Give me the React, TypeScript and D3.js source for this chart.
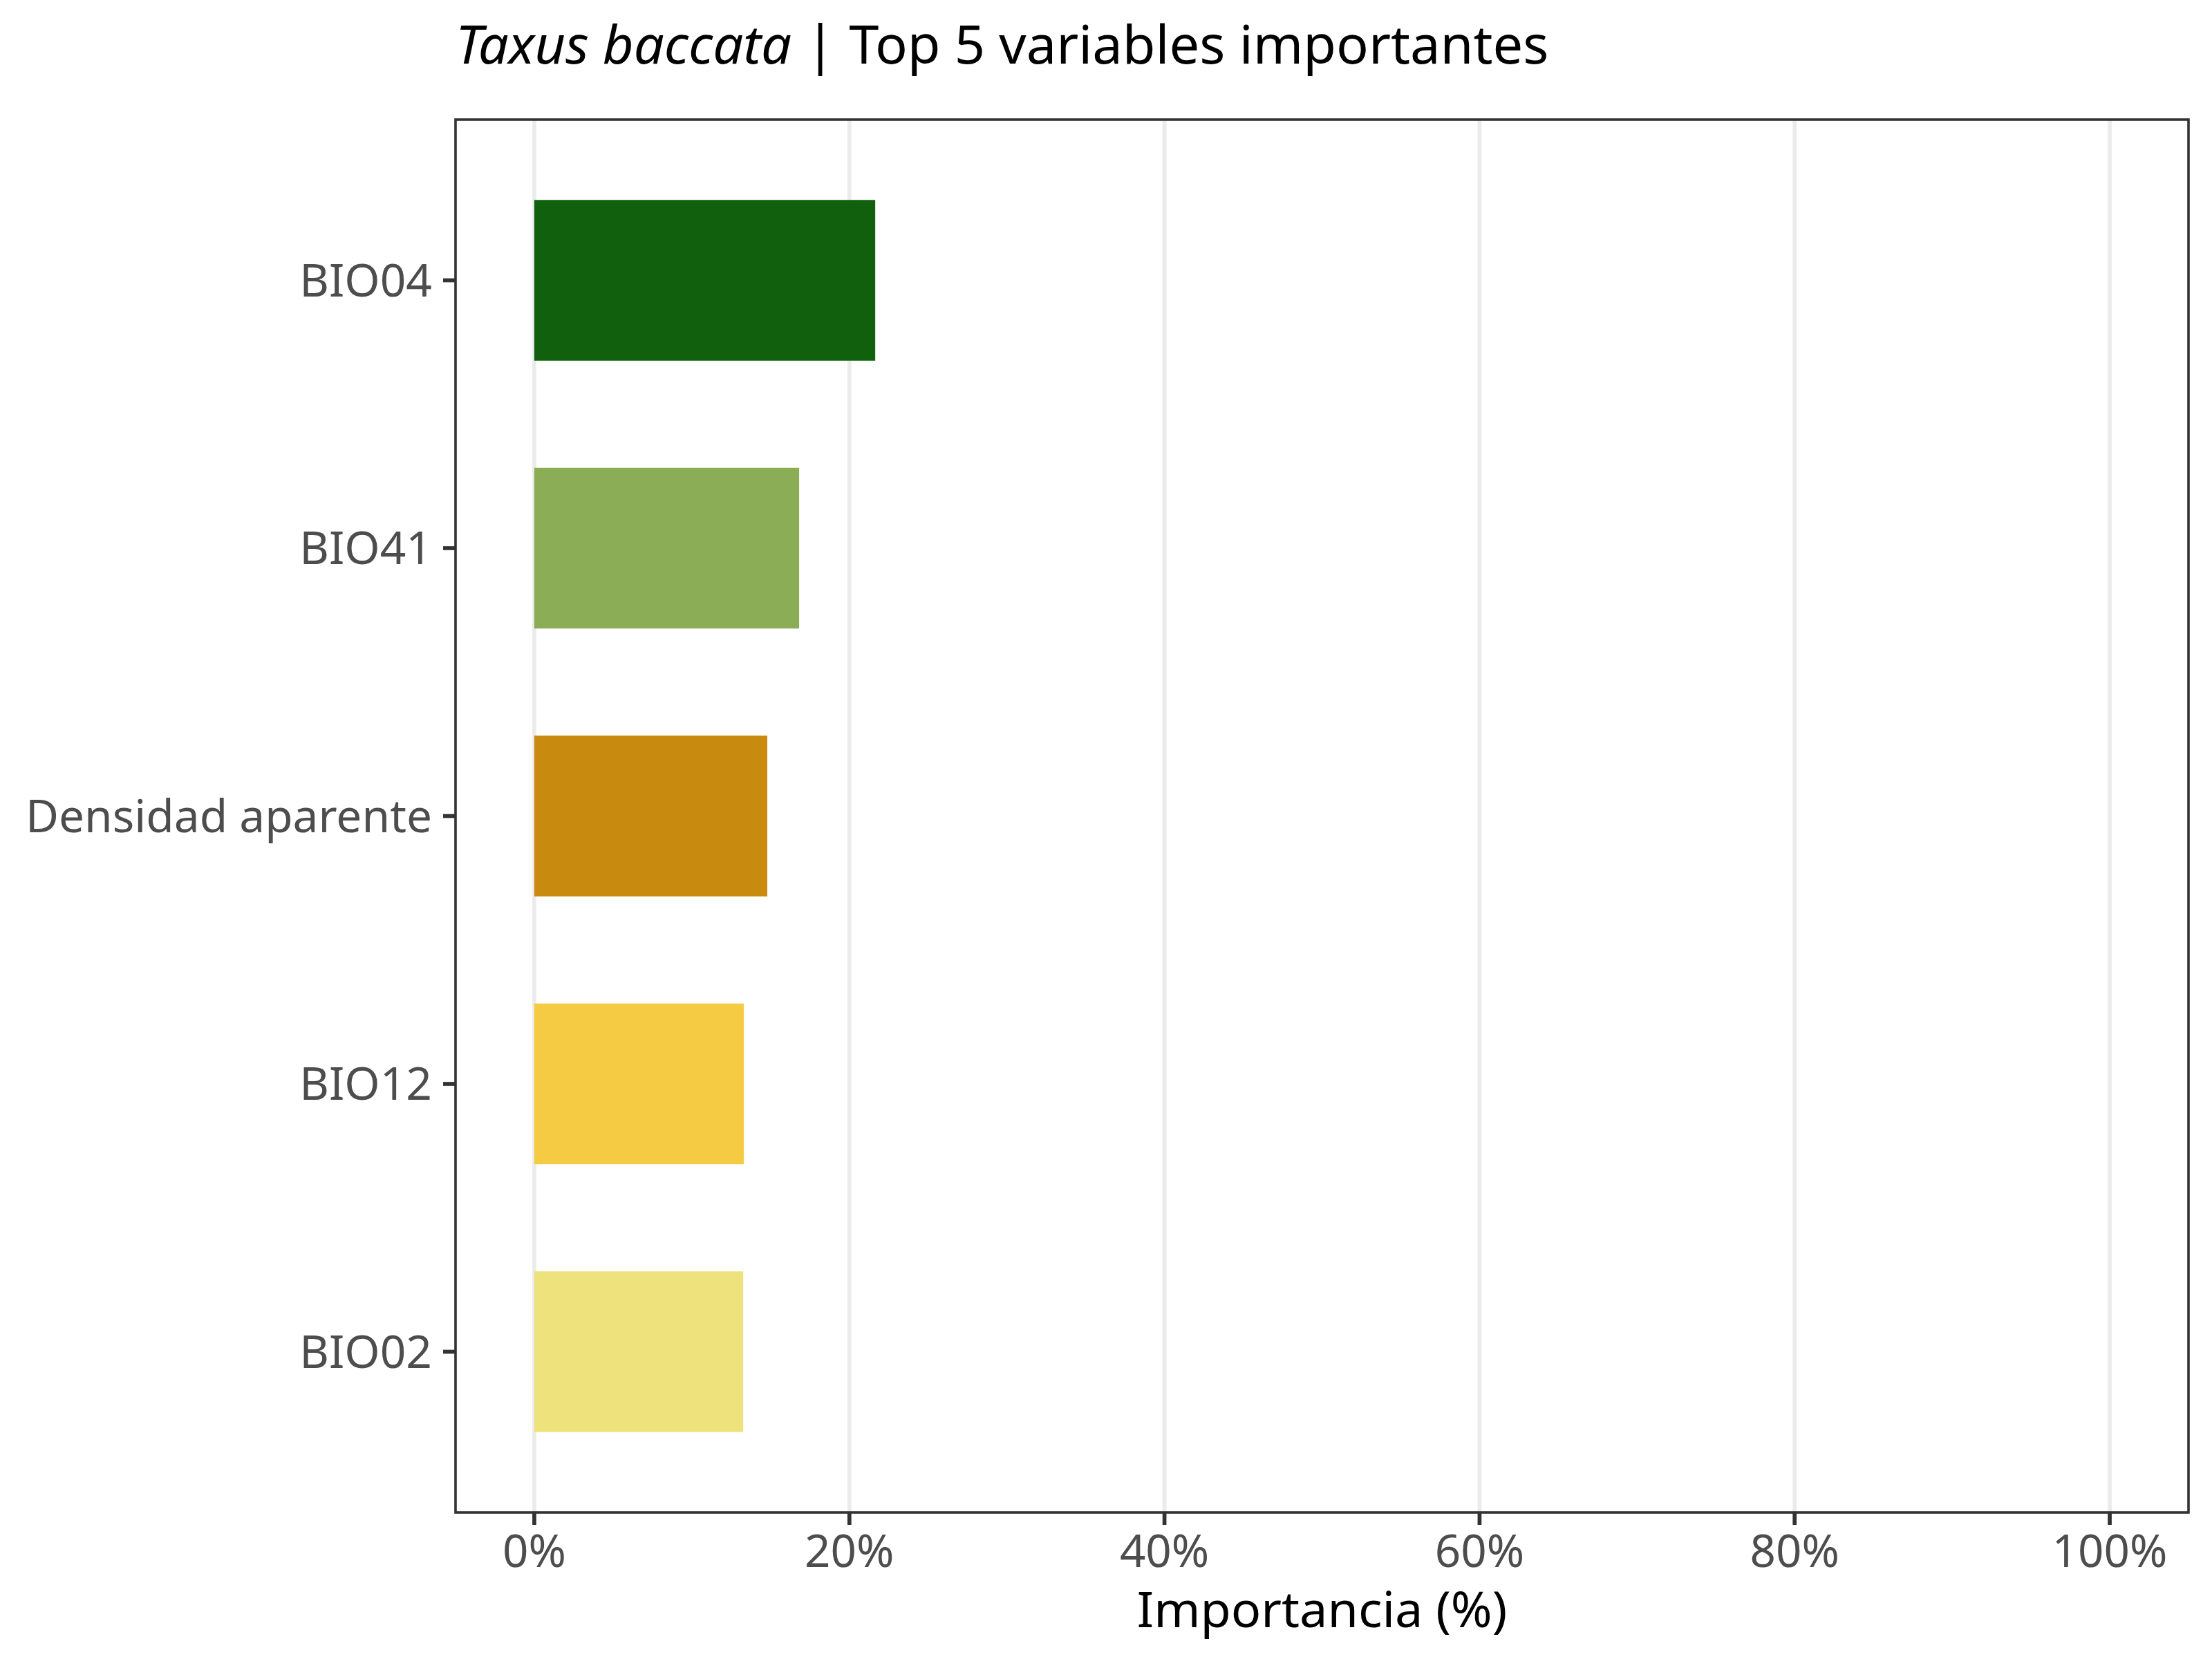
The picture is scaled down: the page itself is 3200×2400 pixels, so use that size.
import React from "react";
import * as d3 from "d3";

// ---- Data ----
const categories = ["BIO04", "BIO41", "Densidad aparente", "BIO12", "BIO02"];
const importance = [21.64, 16.81, 14.79, 13.3, 13.26];
const barColors = ["#10600e", "#8aad55", "#c88a0f", "#f6cb44", "#eee27c"];
const xTicks = [0, 20, 40, 60, 80, 100];
const titleItalic = "Taxus baccata";
const titleRest = " | Top 5 variables importantes";
const xAxisTitle = "Importancia (%)";

// ---- Layout ----
const W = 3200;
const H = 2400;
const panel = { left: 659, right: 3166, top: 173, bottom: 2188 };
const FONT = "'Noto Sans', 'Open Sans', sans-serif";

export default function App() {
  const x = d3.scaleLinear().domain([-5, 105]).range([panel.left, panel.right]);
  const y = d3
    .scaleBand<string>()
    .domain(categories)
    .range([panel.top, panel.bottom])
    .paddingInner(0.4)
    .paddingOuter(0.3);
  const fmt = (v: number) => `${d3.format("d")(v)}%`;

  return (
    <svg
      width={W}
      height={H}
      viewBox={`0 0 ${W} ${H}`}
      style={{ position: "absolute", left: 0, top: 0, background: "#ffffff" }}
      fontFamily={FONT}
    >
      <rect x={0} y={0} width={W} height={H} fill="#ffffff" />

      {/* grid */}
      {xTicks.map((t) => (
        <line
          key={`g${t}`}
          x1={x(t)}
          x2={x(t)}
          y1={panel.top}
          y2={panel.bottom}
          stroke="#ebebeb"
          strokeWidth={5.7}
        />
      ))}

      {/* bars */}
      {categories.map((c, i) => (
        <rect
          key={c}
          x={x(0)}
          y={y(c)!}
          width={x(importance[i]) - x(0)}
          height={y.bandwidth()}
          fill={barColors[i]}
        />
      ))}

      {/* panel border */}
      <rect
        x={panel.left}
        y={panel.top}
        width={panel.right - panel.left}
        height={panel.bottom - panel.top}
        fill="none"
        stroke="#333333"
        strokeWidth={3.6}
      />

      {/* x axis ticks + labels */}
      {xTicks.map((t) => (
        <g key={`x${t}`}>
          <line
            x1={x(t)}
            x2={x(t)}
            y1={panel.bottom}
            y2={panel.bottom + 18}
            stroke="#333333"
            strokeWidth={5.7}
          />
          <text
            x={x(t)}
            y={2267}
            textAnchor="middle"
            fontSize={65.5}
            fill="#4d4d4d"
          >
            {fmt(t)}
          </text>
        </g>
      ))}

      {/* y axis ticks + labels */}
      {categories.map((c) => {
        const cy = y(c)! + y.bandwidth() / 2;
        return (
          <g key={`y${c}`}>
            <line
              x1={panel.left - 18}
              x2={panel.left}
              y1={cy}
              y2={cy}
              stroke="#333333"
              strokeWidth={5.7}
            />
            <text
              x={625}
              y={cy + 23}
              textAnchor="end"
              fontSize={65.8}
              fill="#4d4d4d"
            >
              {c}
            </text>
          </g>
        );
      })}

      {/* axis title */}
      <text
        x={(panel.left + panel.right) / 2}
        y={2354}
        textAnchor="middle"
        fontSize={72}
        fill="#000000"
      >
        {xAxisTitle}
      </text>

      {/* plot title */}
      <text x={panel.left} y={92} fontSize={77.6} fill="#000000">
        <tspan fontStyle="italic">{titleItalic}</tspan>
        <tspan>{titleRest}</tspan>
      </text>
    </svg>
  );
}
